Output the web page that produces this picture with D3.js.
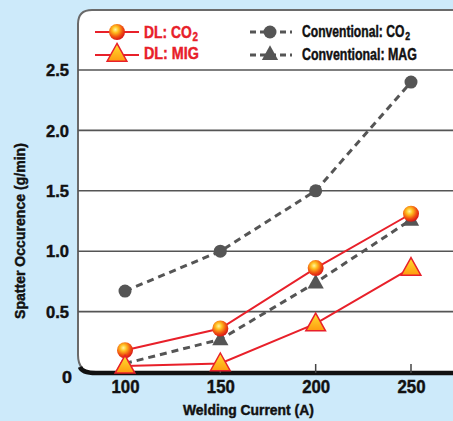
<!DOCTYPE html>
<html><head><meta charset="utf-8">
<script src="https://cdn.jsdelivr.net/npm/d3@7"></script>
<style>
body{margin:0;background:#cdeafa;}
svg{display:block;}
text{font-family:"Liberation Sans",Arial,sans-serif;font-weight:bold;}
</style></head>
<body><svg id="c" width="453" height="421"></svg>
<script>
const currents = [100, 150, 200, 250];
const dlCO2 = [0.18, 0.36, 0.86, 1.31];
const dlMIG = [0.05, 0.07, 0.40, 0.86];
const convCO2 = [0.67, 1.0, 1.5, 2.4];
const convMAG = [0.07, 0.27, 0.74, 1.26];
const yTicks = [0, 0.5, 1.0, 1.5, 2.0, 2.5];
const yTickLabels = ["0", "0.5", "1.0", "1.5", "2.0", "2.5"];
const xTickLabels = ["100", "150", "200", "250"];
const seriesNames = ["DL: CO", "DL: MIG", "Conventional: CO", "Conventional: MAG"];

const svg = d3.select("#c");
const x = d3.scaleLinear().domain([100, 250]).range([125, 411]);
const y = d3.scaleLinear().domain([0, 2.5]).range([372, 70]);

// condensed heavy text: a group scaled horizontally to a target width
function condText(parent, tf, str, fs, col, width, sub, subFs){
  const g = parent.append("g");
  const t = g.append("text").attr("font-size", fs).attr("fill", col)
    .attr("stroke", col).attr("stroke-width", 0.45).text(str);
  let w = t.node().getComputedTextLength();
  if (sub){
    const s = g.append("text").attr("x", w + 1).attr("y", 3).attr("font-size", subFs)
      .attr("fill", col).attr("stroke", col).attr("stroke-width", 0.45).text(sub);
    w += 1 + s.node().getComputedTextLength();
  }
  g.attr("transform", `${tf} scale(${width / w},1)`);
  return g;
}

const defs = svg.append("defs");
const g1 = defs.append("radialGradient").attr("id","ball").attr("cx","40%").attr("cy","35%").attr("r","65%");
g1.append("stop").attr("offset","0%").attr("stop-color","#fff6a0");
g1.append("stop").attr("offset","30%").attr("stop-color","#ffc020");
g1.append("stop").attr("offset","70%").attr("stop-color","#f05010");
g1.append("stop").attr("offset","100%").attr("stop-color","#d81818");
const g2 = defs.append("linearGradient").attr("id","tri").attr("x1","0").attr("y1","0").attr("x2","0").attr("y2","1");
g2.append("stop").attr("offset","0%").attr("stop-color","#ffe030");
g2.append("stop").attr("offset","100%").attr("stop-color","#ff9a10");

// panel
const L = 78, T = 10, B = 373, R = 460;
svg.append("path")
  .attr("d", `M${R},${B} L${L+18},${B} Q${L},${B} ${L},${B-18} L${L},${T+14} Q${L},${T} ${L+14},${T} L${R},${T} Z`)
  .attr("fill", "#fff").attr("stroke", "#6a6a6a").attr("stroke-width", 2);

// gridlines
svg.append("g").selectAll("line").data(yTicks.filter(d => d > 0)).join("line")
  .attr("x1", L).attr("x2", R).attr("y1", d => y(d)).attr("y2", d => y(d))
  .attr("stroke", "#555").attr("stroke-width", 1.6);

// x axis thick line
svg.append("path")
  .attr("d", `M${R},${B} L${L+18},${B} Q${L+4},${B} ${L+2},${B-6}`)
  .attr("fill","none").attr("stroke","#111").attr("stroke-width",4.5);

const xAxis = d3.axisBottom(x).tickValues(currents).tickFormat((d,i)=>xTickLabels[i]).tickSize(0).tickPadding(6);
const xg = svg.append("g").attr("transform", `translate(0,${B+1})`).call(xAxis);
xg.select(".domain").remove();
xg.selectAll("text").attr("font-size", 18).attr("fill", "#111")
  .style("font-family", '"Liberation Sans",Arial,sans-serif').style("font-weight","bold")
  .attr("textLength", 28).attr("lengthAdjust", "spacingAndGlyphs")
  .attr("stroke", "#111").attr("stroke-width", 0.45);
// small ticks above axis
svg.append("g").selectAll("line").data(currents).join("line")
  .attr("x1", d => x(d)).attr("x2", d => x(d)).attr("y1", B - 9).attr("y2", B)
  .attr("stroke", "#444").attr("stroke-width", 1.5);

const yAxis = d3.axisLeft(y).tickValues(yTicks).tickFormat((d,i)=>yTickLabels[i]).tickSize(0).tickPadding(9);
const yg = svg.append("g").attr("transform", `translate(${L},0)`).call(yAxis);
yg.select(".domain").remove();
yg.selectAll("text").attr("font-size", 17).attr("fill", "#111")
  .style("font-family", '"Liberation Sans",Arial,sans-serif').style("font-weight","bold")
  .attr("textLength", (d)=> d === 0 ? 10 : 23).attr("lengthAdjust", "spacingAndGlyphs")
  .attr("dy", d => d === 0 ? "0.62em" : "0.34em")
  .attr("x", d => d === 0 ? -6 : -9)
  .attr("stroke", "#111").attr("stroke-width", 0.45);

// titles
condText(svg, "translate(183,415)", "Welding Current (A)", 15, "#111", 131);
condText(svg, "translate(25,319) rotate(-90)", "Spatter Occurence (g/min)", 15, "#111", 176);

const line = d3.line().x((d,i)=>x(currents[i])).y(d=>y(d));
const red = "#e8202a", gray = "#555";

function drawLine(data, color, dashed){
  svg.append("path").datum(data).attr("d", line).attr("fill","none")
    .attr("stroke", color).attr("stroke-width", dashed ? 3 : 2)
    .attr("stroke-dasharray", dashed ? "7,5" : null);
}
drawLine(convCO2, gray, true);
drawLine(convMAG, gray, true);
drawLine(dlCO2, red, false);
drawLine(dlMIG, red, false);

const triPath = (cx, cy, s) => `M${cx},${cy - s*0.62} L${cx + s*0.58},${cy + s*0.42} L${cx - s*0.58},${cy + s*0.42} Z`;

function grayCircles(data){
  svg.append("g").selectAll("circle").data(data).join("circle")
    .attr("cx",(d,i)=>x(currents[i])).attr("cy",d=>y(d)).attr("r",6.5).attr("fill",gray);
}
function grayTris(data){
  svg.append("g").selectAll("path").data(data).join("path")
    .attr("d",(d,i)=>triPath(x(currents[i]), y(d), 14)).attr("fill",gray);
}
function redBalls(data){
  svg.append("g").selectAll("circle").data(data).join("circle")
    .attr("cx",(d,i)=>x(currents[i])).attr("cy",d=>y(d)).attr("r",8).attr("fill","url(#ball)");
}
function redTris(data){
  svg.append("g").selectAll("path").data(data).join("path")
    .attr("d",(d,i)=>triPath(x(currents[i]), y(d), 17)).attr("fill","url(#tri)").attr("stroke",red).attr("stroke-width",1.5);
}
grayCircles(convCO2);
grayTris(convMAG);
redBalls(dlCO2);
redTris(dlMIG);

// legend
svg.append("line").attr("x1",95).attr("x2",139).attr("y1",32).attr("y2",32).attr("stroke",red).attr("stroke-width",2);
svg.append("circle").attr("cx",117).attr("cy",32).attr("r",8).attr("fill","url(#ball)");
condText(svg, "translate(144,38)", seriesNames[0], 17, red, 54, "2", 12);
svg.append("line").attr("x1",95).attr("x2",139).attr("y1",55).attr("y2",55).attr("stroke",red).attr("stroke-width",2);
svg.append("path").attr("d",triPath(117,54,17)).attr("fill","url(#tri)").attr("stroke",red).attr("stroke-width",1.5);
condText(svg, "translate(144,59)", seriesNames[1], 17, red, 55);

svg.append("line").attr("x1",250).attr("x2",292).attr("y1",32).attr("y2",32).attr("stroke",gray).attr("stroke-width",3).attr("stroke-dasharray","6,4");
svg.append("circle").attr("cx",270).attr("cy",32).attr("r",6.5).attr("fill",gray);
condText(svg, "translate(302,37)", seriesNames[2], 16, "#111", 108, "2", 11.5);
svg.append("line").attr("x1",250).attr("x2",292).attr("y1",55).attr("y2",55).attr("stroke",gray).attr("stroke-width",3).attr("stroke-dasharray","6,4");
svg.append("path").attr("d",triPath(270,54,14)).attr("fill",gray);
condText(svg, "translate(302,60)", seriesNames[3], 16, "#111", 115);
</script></body></html>
